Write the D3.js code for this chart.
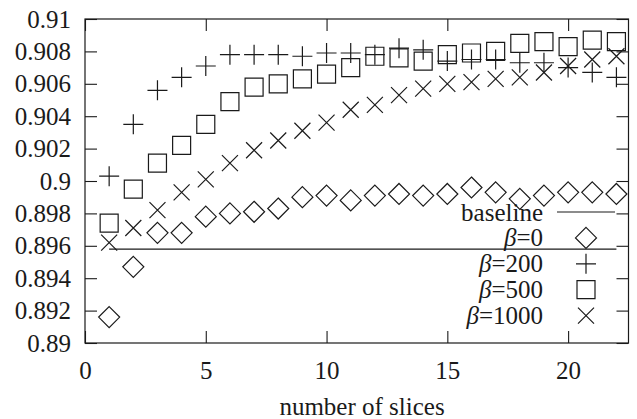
<!DOCTYPE html>
<html>
<head>
<meta charset="utf-8">
<script src="https://cdn.jsdelivr.net/npm/d3@7"></script>
<style>
  body { margin: 0; background: #fff; }
</style>
</head>
<body>
<div id="chart"></div>
<script>
// number of slices vs accuracy

var slices = [1, 2, 3, 4, 5, 6, 7, 8, 9, 10, 11, 12, 13, 14, 15, 16, 17, 18, 19, 20, 21, 22];
var baseline = 0.8958;
var beta0 = [0.8916, 0.8947, 0.8968, 0.8968, 0.8978, 0.8980, 0.8981, 0.8983, 0.8990, 0.8991, 0.8988,
             0.8991, 0.8992, 0.8991, 0.8992, 0.8996, 0.8993, 0.8989, 0.8991, 0.8993, 0.8993, 0.8992];
var beta200 = [0.9003, 0.9035, 0.9056, 0.9064, 0.9071, 0.9078, 0.9078, 0.9078, 0.9077, 0.9079, 0.9079,
               0.9078, 0.9082, 0.9081, 0.9074, 0.9075, 0.9075, 0.9073, 0.9073, 0.9070, 0.9067, 0.9064];
var beta500 = [0.8974, 0.8995, 0.9011, 0.9022, 0.9035, 0.9049, 0.9058, 0.9060, 0.9063, 0.9066, 0.9070,
               0.9077, 0.9076, 0.9074, 0.9078, 0.9079, 0.9080, 0.9085, 0.9086, 0.9083, 0.9087, 0.9086];
var beta1000 = [0.8962, 0.8971, 0.8982, 0.8993, 0.9001, 0.9011, 0.9019, 0.9025, 0.9031, 0.9036, 0.9044,
                0.9047, 0.9053, 0.9057, 0.9060, 0.9061, 0.9063, 0.9064, 0.9067, 0.9071, 0.9075, 0.9077];
var xTicks = [0, 5, 10, 15, 20];
var yTicks = [0.89, 0.892, 0.894, 0.896, 0.898, 0.9, 0.902, 0.904, 0.906, 0.908, 0.91];
var legendLabels = ["baseline", "0", "200", "500", "1000"];

var width = 637,
    height = 419,
    margin = {left: 85, right: 8.5, top: 19, bottom: 76},
    ink = "#1a1a1a",
    font = "'Liberation Serif', 'DejaVu Serif', serif",
    tick = 12;

var svg = d3.select("#chart").append("svg")
  .attr("width", width)
  .attr("height", height);

var x = d3.scaleLinear().domain([0, 22.5]).range([margin.left, width - margin.right]);
var y = d3.scaleLinear().domain([0.89, 0.91]).range([height - margin.bottom, margin.top]);

var fmt = function(d) { return String(+d.toFixed(3)); };

function styleAxis(g) {
  g.select(".domain").remove();
  g.attr("font-family", null);
  g.selectAll("line").attr("stroke", ink).attr("stroke-width", 1.1);
  g.selectAll("text").attr("font-size", 25).attr("fill", ink);
}

svg.append("g")
  .attr("transform", "translate(" + margin.left + ",0)")
  .call(d3.axisLeft(y).tickValues(yTicks).tickFormat(fmt).tickSize(-tick).tickPadding(14))
  .call(styleAxis);

svg.append("g")
  .attr("transform", "translate(" + (width - margin.right) + ",0)")
  .call(d3.axisRight(y).tickValues(yTicks).tickFormat("").tickSize(-tick))
  .call(styleAxis);

svg.append("g")
  .attr("transform", "translate(0," + (height - margin.bottom) + ")")
  .call(d3.axisBottom(x).tickValues(xTicks).tickFormat(d3.format("d")).tickSize(-tick).tickPadding(18))
  .call(styleAxis);

svg.append("g")
  .attr("transform", "translate(0," + margin.top + ")")
  .call(d3.axisTop(x).tickValues(xTicks).tickFormat("").tickSize(-tick))
  .call(styleAxis);

// frame
svg.append("rect")
  .attr("x", x(0))
  .attr("y", y(0.91))
  .attr("width", x(22.5) - x(0))
  .attr("height", y(0.89) - y(0.91))
  .attr("fill", "none")
  .attr("stroke", ink)
  .attr("stroke-width", 1.2);

svg.append("text")
  .attr("x", 362)
  .attr("y", 415)
  .attr("text-anchor", "middle")
  .attr("font-size", 25)
  .text("number of slices");

// marker shapes
var markers = {
  diamond: function(g) {
    g.append("path").attr("d", "M0,-10.5L10.5,0L0,10.5L-10.5,0Z");
  },
  plus: function(g) {
    g.append("path").attr("d", "M-10,0H10M0,-10V10");
  },
  square: function(g) {
    g.append("path").attr("d", "M-9,-9H9V9H-9Z");
  },
  cross: function(g) {
    g.append("path").attr("d", "M-8,-8L8,8M-8,8L8,-8");
  }
};

var series = [
  {values: beta0, shape: "diamond"},
  {values: beta200, shape: "plus"},
  {values: beta500, shape: "square"},
  {values: beta1000, shape: "cross"}
];

// baseline
svg.append("line")
  .attr("x1", x(slices[0]))
  .attr("x2", x(slices[slices.length - 1]))
  .attr("y1", y(baseline))
  .attr("y2", y(baseline))
  .attr("stroke", ink)
  .attr("stroke-width", 1.2);

series.forEach(function(s) {
  svg.append("g").selectAll("g")
    .data(slices)
    .enter()
    .append("g")
    .attr("transform", function(d, i) { return "translate(" + x(d) + "," + y(s.values[i]) + ")"; })
    .each(function() { markers[s.shape](d3.select(this)); })
    .selectAll("path")
    .attr("fill", "none")
    .attr("stroke", ink)
    .attr("stroke-width", 1.2);
});

// legend
var legend = svg.append("g");
var rowY = function(i) { return 220.5 + i * 25.9; };

legendLabels.forEach(function(lab, i) {
  var t = legend.append("text")
    .attr("x", 543)
    .attr("y", rowY(i))
    .attr("text-anchor", "end")
    .attr("font-size", 25);
  if (i === 0) {
    t.text(lab);
  } else {
    t.append("tspan").attr("font-style", "italic").text("\u03b2");
    t.append("tspan").text("=" + lab);
  }
});

legend.append("line")
  .attr("x1", 557).attr("x2", 615)
  .attr("y1", rowY(0) - 8.5).attr("y2", rowY(0) - 8.5)
  .attr("stroke", ink)
  .attr("stroke-width", 1.2);

series.forEach(function(s, i) {
  var g = legend.append("g").attr("transform", "translate(586," + (rowY(i + 1) - 8.5) + ")");
  markers[s.shape](g);
  g.selectAll("path").attr("fill", "none").attr("stroke", ink).attr("stroke-width", 1.2);
});

// all text in one serif face
svg.selectAll("text").style("font-family", font).style("fill", ink);
</script>
</body>
</html>
